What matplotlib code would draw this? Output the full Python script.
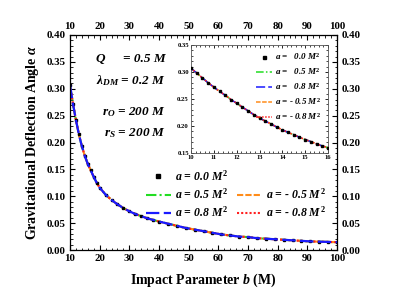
import matplotlib
matplotlib.use('Agg')
import matplotlib.pyplot as plt
from matplotlib.ticker import MultipleLocator, FormatStrFormatter
from matplotlib.lines import Line2D

plt.rcParams['font.family'] = ['Liberation Serif', 'DejaVu Serif']
plt.rcParams['font.weight'] = 'bold'
plt.rcParams['mathtext.fontset'] = 'custom'
plt.rcParams['mathtext.rm'] = 'Liberation Serif:bold'
plt.rcParams['mathtext.it'] = 'Liberation Serif:italic:bold'
plt.rcParams['mathtext.bf'] = 'Liberation Serif:bold'

# ---- data ----
b_main = [10, 11, 12, 13, 14, 15, 16, 17, 18, 19, 20, 22, 24, 26, 28, 30, 32, 34, 36, 38, 40,
          43, 46, 49, 52, 55, 58, 61, 64, 67, 70, 73, 76, 79, 82, 85, 88, 91, 94, 97, 100]
alpha_main = [0.307, 0.272, 0.242, 0.215, 0.193, 0.175, 0.160, 0.148, 0.136, 0.125, 0.116,
              0.103, 0.093, 0.085, 0.078, 0.072, 0.067, 0.063, 0.059, 0.056, 0.053,
              0.049, 0.045, 0.041, 0.038, 0.035, 0.032, 0.029, 0.027, 0.025, 0.024,
              0.022, 0.021, 0.020, 0.019, 0.018, 0.017, 0.016, 0.0155, 0.015, 0.0145]

b_inset = [10, 10.25, 10.5, 10.75, 11, 11.25, 11.5, 11.75, 12, 12.25, 12.5, 12.75, 13,
           13.25, 13.5, 13.75, 14, 14.25, 14.5, 14.75, 15, 15.25, 15.5, 15.75, 16]
alpha_inset = [0.307, 0.298, 0.289, 0.280, 0.272, 0.264, 0.257, 0.249, 0.242, 0.235, 0.228,
               0.221, 0.215, 0.209, 0.204, 0.198, 0.193, 0.188, 0.184, 0.179, 0.175,
               0.171, 0.167, 0.163, 0.160]

series_labels_main = [r'$a$ = 0.0 $M^2$', r'$a$ = 0.5 $M^2$', r'$a$ = 0.8 $M^2$',
                      r'$a$ = - 0.5 $M^2$', r'$a$ = - 0.8 $M^2$']
series_labels_inset = [r'$a$ =   0.0 $M^2$', r'$a$ =   0.5 $M^2$', r'$a$ =   0.8 $M^2$',
                       r'$a$ = - 0.5 $M^2$', r'$a$ = - 0.8 $M^2$']

x_ticks = [10, 20, 30, 40, 50, 60, 70, 80, 90, 100]
y_ticks = [0.00, 0.05, 0.10, 0.15, 0.20, 0.25, 0.30, 0.35, 0.40]
xi_ticks = [10, 11, 12, 13, 14, 15, 16]
yi_ticks = [0.15, 0.20, 0.25, 0.30, 0.35]

styles = [
    dict(color='black', linestyle='none', marker='s', markersize=1.7),
    dict(color='#22dd22', linestyle=(0, (5, 1.5, 1, 1.5)), linewidth=1.5),
    dict(color='#1a1aff', linestyle=(0, (6, 2)), linewidth=1.6),
    dict(color='#ff8c1a', linestyle=(0, (3, 1)), linewidth=1.5),
    dict(color='#ff2020', linestyle=(0, (1, 1)), linewidth=1.5),
]
zorders = [2.4, 2.1, 2.5, 2.2, 2.3]

fig = plt.figure(figsize=(3.93, 3.01), dpi=100)
ax = fig.add_axes([70/393, 51/301, 267/393, 215/301])

handles = []
for st, lab, z in zip(styles, series_labels_main, zorders):
    h, = ax.plot(b_main, alpha_main, label=lab, zorder=z, **st)
    handles.append(h)

ax.set_xlim(10, 100)
ax.set_ylim(0, 0.40)
ax.set_xticks(x_ticks)
ax.set_yticks(y_ticks)
ax.xaxis.set_minor_locator(MultipleLocator(2))
ax.yaxis.set_minor_locator(MultipleLocator(0.01))
ax.yaxis.set_major_formatter(FormatStrFormatter('%.2f'))
ax.tick_params(which='both', direction='in', top=True, right=True,
               labeltop=True, labelright=True, labelsize=7.8, pad=3)
ax.tick_params(which='major', length=3.5, width=0.8)
ax.tick_params(which='minor', length=1.8, width=0.6)
for lab in ax.get_xticklabels() + ax.get_yticklabels():
    lab.set_fontweight('bold')
for s in ax.spines.values():
    s.set_linewidth(0.9)

ax.set_xlabel(r'Impact Parameter $b$ (M)', fontsize=10, fontweight='bold', labelpad=6)
ax.set_ylabel(r'Gravitational Deflection Angle $\alpha$', fontsize=10, fontweight='bold', labelpad=4)

# annotations
tkw = dict(fontsize=9.5, fontweight='bold', fontstyle='italic', transform=ax.transAxes, va='center')
ax.text(0.094, 0.888, r'$Q$', ha='left', **tkw)
ax.text(0.36, 0.888, '= 0.5 M', ha='right', **tkw)
ax.text(0.36, 0.79, r'$\lambda_{DM}$ = 0.2 M', ha='right', **tkw)
ax.text(0.36, 0.642, r'$r_O$ = 200 M', ha='right', **tkw)
ax.text(0.36, 0.544, r'$r_S$ = 200 M', ha='right', **tkw)

blank = Line2D([], [], linestyle='none', marker='none')
leg_handles = [handles[0], handles[1], handles[2], blank, handles[3], handles[4]]
leg_labels = [series_labels_main[0], series_labels_main[1], series_labels_main[2], '',
              series_labels_main[3], series_labels_main[4]]
leg = ax.legend(leg_handles, leg_labels, ncol=2, frameon=False,
                loc='upper left', bbox_to_anchor=(146/393, 1 - 169/301),
                bbox_transform=fig.transFigure, borderpad=0, borderaxespad=0,
                handlelength=2.1, handletextpad=0.35, columnspacing=0.8,
                labelspacing=0.3, markerscale=1.6,
                prop=dict(family='Liberation Serif', weight='bold',
                          style='italic', size=8.5))

# inset
axi = fig.add_axes([191/393, 1 - 153/301, 137/393, 108/301])
ihandles = []
izorders = [2.6, 2.1, 2.3, 2.2, 2.4]
for st, lab, z in zip(styles, series_labels_inset, izorders):
    st2 = dict(st)
    if 'markersize' in st2:
        st2['markersize'] = 1.8
    else:
        st2['linewidth'] = 1.1
    h, = axi.plot(b_inset, alpha_inset, label=lab, zorder=z, **st2)
    ihandles.append(h)
axi.set_xlim(10, 16)
axi.set_ylim(0.15, 0.35)
axi.set_xticks(xi_ticks)
axi.set_yticks(yi_ticks)
axi.xaxis.set_minor_locator(MultipleLocator(0.2))
axi.yaxis.set_minor_locator(MultipleLocator(0.01))
axi.yaxis.set_major_formatter(FormatStrFormatter('%.2f'))
axi.tick_params(which='both', direction='in', top=True, right=True, labelsize=4.8, pad=1.5)
axi.tick_params(which='major', length=2.5, width=0.6)
axi.tick_params(which='minor', length=1.2, width=0.5)
for lab in axi.get_xticklabels() + axi.get_yticklabels():
    lab.set_fontweight('bold')
for s in axi.spines.values():
    s.set_linewidth(0.6)
    s.set_color('#555555')
axi.legend(ihandles, series_labels_inset, frameon=False, loc='upper right',
           bbox_to_anchor=(321/393, 1 - 51/301), bbox_transform=fig.transFigure,
           borderpad=0, borderaxespad=0, handlelength=1.8, handletextpad=0.3,
           labelspacing=0.45, markerscale=1.2,
           prop=dict(family='Liberation Serif', weight='bold',
                     style='italic', size=6.5))

fig.savefig('out.png', dpi=100)
